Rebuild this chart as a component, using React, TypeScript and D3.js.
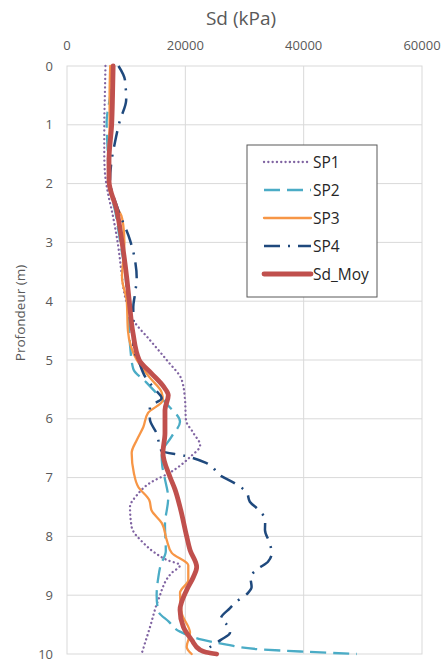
import React from "react";
import * as d3 from "d3";

const xTicks = [0, 20000, 40000, 60000];
const yTicks = [0, 1, 2, 3, 4, 5, 6, 7, 8, 9, 10];
const seriesNames = ["SP1", "SP2", "SP3", "SP4", "Sd_Moy"];

const sp1Depth = [0, 0.5, 1.0, 1.5, 1.8, 2.2, 2.45, 3.07, 3.5, 3.87, 4.1, 4.32, 4.66, 5.0, 5.34, 5.68, 6.02, 6.24, 6.45, 6.65, 6.92, 7.09, 7.3, 7.5, 7.84, 8.11, 8.28, 8.4, 8.49, 8.62, 9.08, 9.54, 10];
const sp1Value = [6500, 6400, 6300, 6300, 6400, 7000, 7550, 8670, 9200, 9700, 10300, 11200, 14000, 16850, 19400, 19950, 20100, 21350, 22500, 20800, 17300, 14030, 11800, 10650, 10930, 12900, 14870, 16850, 19100, 17700, 15430, 14030, 12600];

const sp2Depth = [0, 0.5, 0.95, 1.5, 2.0, 2.5, 3.0, 3.5, 4.0, 4.5, 4.8, 5.15, 5.38, 5.55, 5.75, 6.05, 6.3, 6.6, 6.8, 7.0, 7.35, 7.8, 8.25, 8.5, 8.7, 9.0, 9.27, 9.45, 9.62, 9.76, 9.84, 9.92, 9.96, 10.0];
const sp2Value = [7600, 7300, 6700, 6900, 7100, 8200, 9000, 9800, 10200, 10500, 10700, 11200, 13400, 15000, 16850, 19100, 17700, 16000, 16100, 16500, 17100, 16560, 16700, 15800, 15430, 15150, 15430, 17200, 19100, 23000, 27000, 32600, 40000, 49000];

const sp3Depth = [0, 0.5, 1.0, 1.5, 2.0, 2.3, 2.55, 2.7, 3.0, 3.3, 3.6, 4.0, 4.5, 5.0, 5.3, 5.55, 5.68, 5.9, 6.14, 6.36, 6.58, 6.92, 7.16, 7.38, 7.56, 7.77, 8.06, 8.28, 8.49, 8.74, 8.96, 9.3, 9.64, 9.88, 10];
const sp3Value = [7300, 7200, 7200, 7000, 7100, 7800, 9200, 9500, 9700, 9500, 9300, 10100, 10300, 11800, 14000, 16000, 16200, 13700, 12900, 11800, 10930, 11300, 12050, 13900, 14300, 16000, 16850, 17700, 20500, 20500, 19100, 19380, 20790, 20230, 21070];

const sp4Depth = [0, 0.24, 0.58, 0.92, 1.3, 1.6, 1.94, 2.45, 2.96, 3.3, 3.6, 3.88, 4.1, 4.8, 5.0, 5.3, 5.5, 5.65, 5.8, 6.0, 6.25, 6.55, 6.63, 6.75, 6.97, 7.1, 7.26, 7.41, 7.55, 7.72, 7.89, 8.1, 8.28, 8.43, 8.55, 8.69, 8.86, 8.96, 9.13, 9.22, 9.4, 9.5, 9.64, 9.76, 9.88, 9.95];
const sp4Value = [8700, 9800, 10000, 8960, 8100, 7550, 7270, 8670, 10650, 11490, 11780, 11490, 11200, 11200, 12050, 13300, 14870, 16000, 14000, 14000, 15150, 16000, 19940, 23500, 26000, 28400, 30400, 30900, 32400, 33500, 33460, 34200, 34600, 33970, 32300, 31000, 31200, 30600, 28400, 27550, 26000, 27000, 27550, 26000, 24200, 23500];

const moyDepth = [0, 0.5, 1.0, 1.6, 1.95, 2.45, 2.96, 3.6, 3.98, 4.54, 5.0, 5.23, 5.45, 5.6, 5.85, 6.24, 6.58, 6.99, 7.2, 7.5, 8.0, 8.23, 8.52, 8.69, 8.91, 9.25, 9.54, 9.76, 9.93, 9.97, 10];
const moyValue = [7800, 7700, 7550, 7100, 7100, 8400, 9250, 10100, 10500, 11150, 12200, 14300, 16300, 17120, 16560, 16560, 16220, 17410, 18250, 19100, 20230, 20790, 21920, 21360, 20230, 19100, 19660, 21070, 22480, 23500, 25300];

const colors = ["#8064A2", "#4BACC6", "#F79646", "#1F497D", "#C0504D"];
const widths = [2.3, 2.3, 2.3, 2.5, 4.8];
const dashes = ["0.1,4.2", "16,7", "", "16,8,2,8", ""];
const caps = ["round", "butt", "round", "butt", "round"];

const W = 444;
const H = 661;
const left = 67;
const right = 422;
const top = 66;
const bottom = 654;

export default function App() {
  const x = d3.scaleLinear().domain([0, 60000]).range([left, right]);
  const y = d3.scaleLinear().domain([0, 10]).range([top, bottom]);
  const depths = [sp1Depth, sp2Depth, sp3Depth, sp4Depth, moyDepth];
  const values = [sp1Value, sp2Value, sp3Value, sp4Value, moyValue];
  const line = d3
    .line<[number, number]>()
    .x((p) => x(p[1]))
    .y((p) => y(p[0]))
    .curve(d3.curveMonotoneY);
  const font = "Open Sans, Noto Sans, sans-serif";
  const legX = 247;
  const legY = 145;
  return (
    <div style={{ position: "absolute", left: 0, top: 0 }}>
      <svg width={W} height={H} style={{ display: "block", background: "#fff" }}>
        <rect x={0} y={0} width={W} height={H} fill="#fff" />
        {xTicks.slice(1, -1).map((t) => (
          <line key={"gx" + t} x1={x(t)} x2={x(t)} y1={top} y2={bottom} stroke="#d9d9d9" strokeWidth={1} />
        ))}
        {yTicks.slice(1, -1).map((t) => (
          <line key={"gy" + t} x1={left} x2={right} y1={y(t)} y2={y(t)} stroke="#d9d9d9" strokeWidth={1} />
        ))}
        <rect x={left} y={top} width={right - left} height={bottom - top} fill="none" stroke="#d9d9d9" strokeWidth={1} />
        {xTicks.map((t) => (
          <text key={"tx" + t} x={x(t)} y={50} textAnchor="middle" fontFamily={font} fontSize={13} fill="#595959">
            {t}
          </text>
        ))}
        {yTicks.map((t) => (
          <text key={"ty" + t} x={53} y={y(t) + 4.5} textAnchor="end" fontFamily={font} fontSize={13} fill="#595959">
            {t}
          </text>
        ))}
        <text x={241} y={25} textAnchor="middle" fontFamily={font} fontSize={19} fill="#595959">
          Sd (kPa)
        </text>
        <text
          transform={`translate(25,313) rotate(-90)`}
          textAnchor="middle"
          fontFamily={font}
          fontSize={13.5}
          fill="#595959"
        >
          Profondeur (m)
        </text>
        <g>
          {values.map((vals, i) => {
            const pts: [number, number][] = depths[i].map((d, j) => [d, vals[j]]);
            return (
              <path
                key={"s" + i}
                d={line(pts) || ""}
                fill="none"
                stroke={colors[i]}
                strokeWidth={widths[i]}
                strokeDasharray={dashes[i] || undefined}
                strokeLinecap={caps[i] as any}
                strokeLinejoin="round"
              />
            );
          })}
        </g>
        <rect x={legX} y={legY} width={130} height={152} fill="#fff" stroke="#595959" strokeWidth={1} />
        {seriesNames.map((n, i) => {
          const ly = 162 + i * 28;
          return (
            <g key={"l" + n}>
              <line
                x1={264}
                x2={311}
                y1={ly}
                y2={ly}
                stroke={colors[i]}
                strokeWidth={widths[i]}
                strokeDasharray={dashes[i] || undefined}
                strokeLinecap={caps[i] as any}
              />
              <text x={313} y={ly + 5.5} fontFamily={font} fontSize={15.5} fill="#262626">
                {n}
              </text>
            </g>
          );
        })}
      </svg>
    </div>
  );
}
